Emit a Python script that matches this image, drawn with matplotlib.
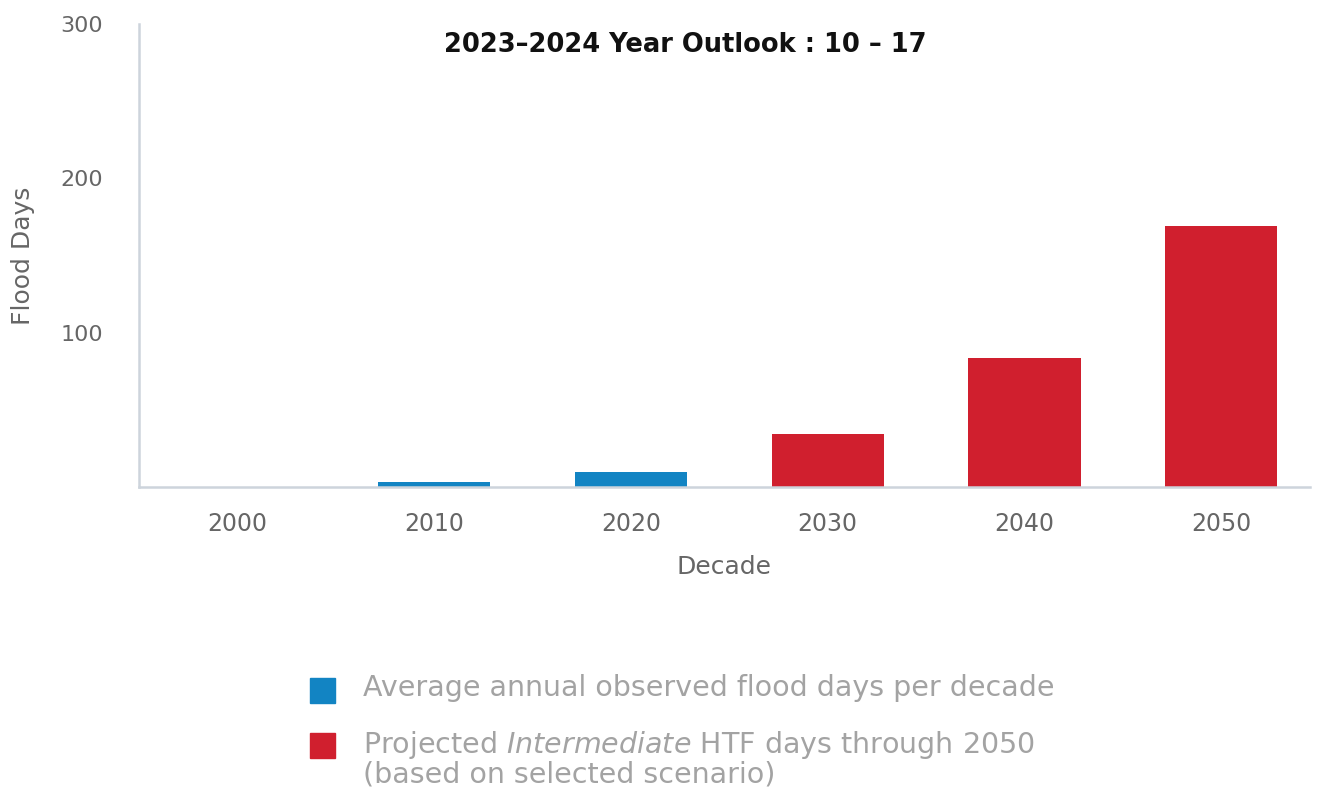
import matplotlib.pyplot as plt
from matplotlib.patches import Rectangle

# flood days per decade
decades = ["2000", "2010", "2020", "2030", "2040", "2050"]
observed = [0, 3, 9.5, 0, 0, 0]
projected = [0, 0, 0, 34.5, 83.5, 169]
y_ticks = [100, 200, 300]

blue = "#1284C3"
red = "#D01F2E"
axis_col = "#CDD4DC"
tick_col = "#666666"
legend_txt = "#A3A3A3"

fig = plt.figure(figsize=(13.23, 7.94), dpi=100)
ax = fig.add_axes([0.105, 0.3866, 0.885, 0.5834])

x = list(range(len(decades)))
w = 0.57
ax.bar(x, observed, width=w, color=blue)
ax.bar(x, projected, width=w, color=red)

ax.set_xlim(-0.5, 5.45)
ax.set_ylim(0, 300)
ax.set_yticks(y_ticks)
ax.set_xticks(x)
ax.set_xticklabels(decades)
ax.tick_params(length=0, colors=tick_col)
ax.tick_params(axis="x", labelsize=17, pad=18)
ax.tick_params(axis="y", labelsize=16, pad=26)

for s in ["top", "right"]:
    ax.spines[s].set_visible(False)
for s in ["left", "bottom"]:
    ax.spines[s].set_color(axis_col)
    ax.spines[s].set_linewidth(1.8)

ax.set_xlabel("Decade", fontsize=18, color=tick_col, labelpad=14)
ax.set_ylabel("Flood Days", fontsize=18, color=tick_col)
ax.yaxis.set_label_coords(-0.089, 0.5)

fig.text(0.518, 0.943, "2023\u20132024 Year Outlook : 10 \u2013 17",
         ha="center", va="center", fontsize=18.5, fontweight="bold", color="#111111")

# legend drawn by hand so the red square sits on the first line
items = [
    (blue, 690, "Average annual observed flood days per decade"),
    (red, 745, "Projected $\\it{Intermediate}$ HTF days through 2050\n(based on selected scenario)"),
]
for col, yc, label in items:
    fig.patches.append(Rectangle((310 / 1323, 1 - (yc + 12.5) / 794), 25 / 1323, 25 / 794,
                                 transform=fig.transFigure, color=col))
    fig.text(363 / 1323, 1 - (yc - 16) / 794, label, ha="left", va="top",
             fontsize=20.5, color=legend_txt, linespacing=1.0)

fig.savefig("out.png", dpi=100)
